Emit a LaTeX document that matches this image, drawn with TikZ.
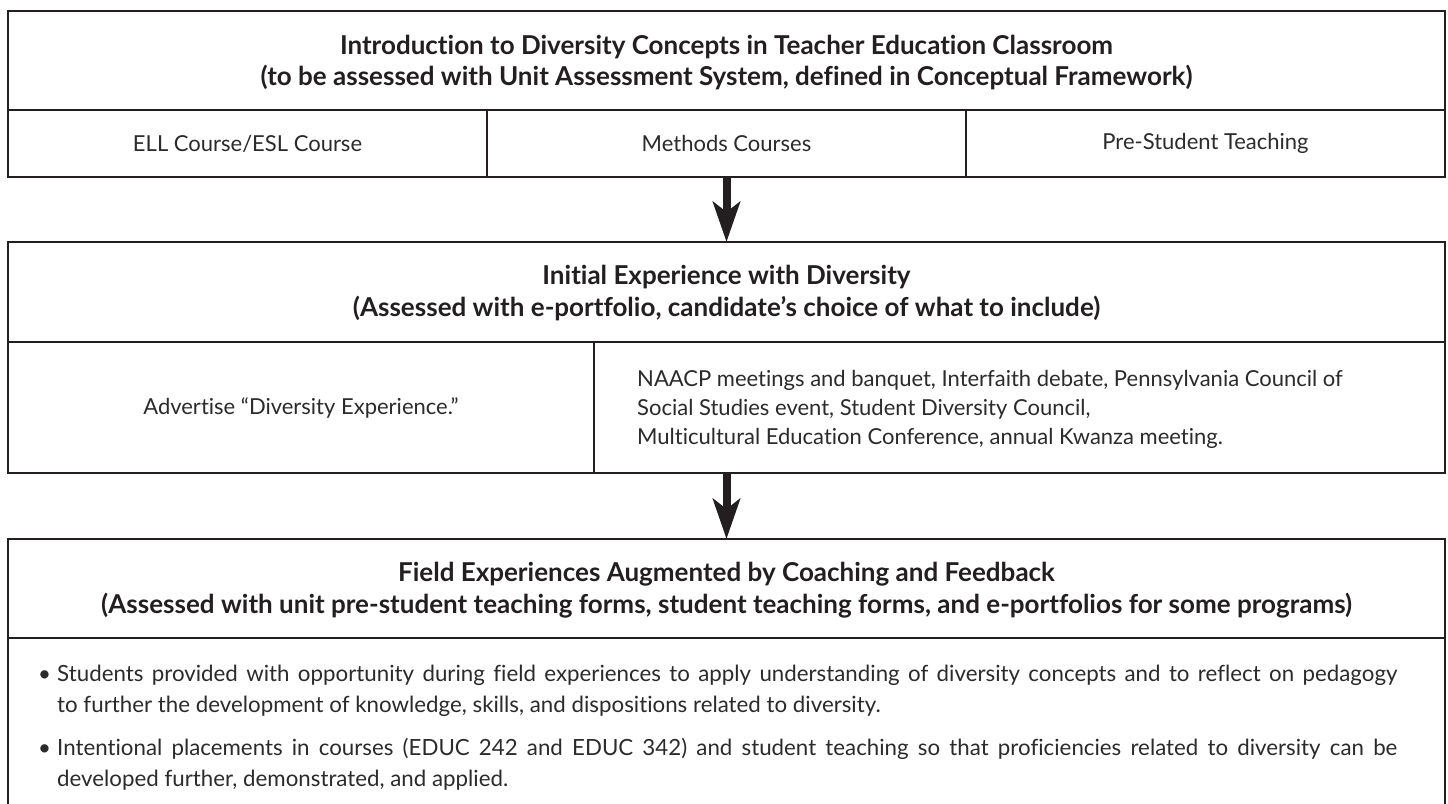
\documentclass[tikz,border=0pt]{standalone}
\usepackage{fontspec}
\setmainfont{Lato}[Ligatures=NoCommon]
\usetikzlibrary{arrows.meta}
\definecolor{ink}{HTML}{231F20}
\definecolor{txt}{HTML}{2B2B2B}
\begin{document}
\begin{tikzpicture}[x=1pt,y=-1pt,
  frame/.style={draw=ink, line width=2.4pt, inner sep=0pt, outer sep=0pt, anchor=north west},
  rule/.style={draw=ink, line width=2.2pt},
  headtxt/.style={font=\fontsize{26}{31.5}\selectfont\bfseries, text=ink, align=center, inner sep=0pt},
  celltxt/.style={font=\fontsize{22}{29}\selectfont, text=txt, inner sep=0pt},
  itemtxt/.style={font=\fontsize{22.3}{31}\selectfont, text=txt, inner sep=0pt, align=left, anchor=west},
  flow/.style={draw=ink, line width=8pt, -{Stealth[width=27pt,length=40pt,inset=10pt]}}]
\path[use as bounding box] (0,0) rectangle (1448,803);
\clip (0,0) rectangle (1448,803);
\fill[white] (0,0) rectangle (1448,803);
% boxes
\node[frame, minimum width=1437pt, minimum height=166pt] (b1) at (8,11) {};
\node[frame, minimum width=1437pt, minimum height=231pt] (b2) at (8,242) {};
\node[frame, minimum width=1437pt, minimum height=320pt] (b3) at (8,539) {};
% inner rules
\draw[rule] (8,110) -- (1445,110);
\draw[rule] (487,110) -- (487,177);
\draw[rule] (966,110) -- (966,177);
\draw[rule] (8,342) -- (1445,342);
\draw[rule] (594,342) -- (594,473);
\draw[rule] (8,638) -- (1445,638);
% connectors
\draw[flow] (b1.south) -- (b2.north);
\draw[flow] (b2.south) -- (b3.north);
% texts
\node[headtxt] (h1) at (726.5,62.5) {Introduction to Diversity Concepts in Teacher Education Classroom\\(to be assessed with Unit Assessment System, defined in Conceptual Framework)};
\node[celltxt] (c11) at (247.5,143.5) {ELL Course/ESL Course};
\node[celltxt] (c12) at (726.5,143.5) {Methods Courses};
\node[celltxt] (c13) at (1205.5,143.5) {Pre-Student Teaching};
\node[headtxt] (h2) at (726.5,293) {Initial Experience with Diversity\\(Assessed with e-portfolio, candidate’s choice of what to include)};
\node[celltxt] (c21) at (301,407.5) {Advertise “Diversity Experience.”};
\node[celltxt, align=left, anchor=west] (c22) at (637,409) {NAACP meetings and banquet, Interfaith debate, Pennsylvania Council of\\Social Studies event, Student Diversity Council,\\Multicultural Education Conference, annual Kwanza meeting.};
\node[headtxt] (h3) at (726.5,590) {Field Experiences Augmented by Coaching and Feedback\\(Assessed with unit pre-student teaching forms, student teaching forms, and e-portfolios for some programs)};
\node[itemtxt] (i1) at (38,691) {\makebox[19pt][l]{\textbullet}\makebox[1340pt][s]{Students provided with opportunity during field experiences to apply understanding of diversity concepts and to reflect on pedagogy}\\\hspace*{19pt}to further the development of knowledge, skills, and dispositions related to diversity.};
\node[itemtxt] (i2) at (38,764) {\makebox[19pt][l]{\textbullet}\makebox[1340pt][s]{Intentional placements in courses (EDUC 242 and EDUC 342) and student teaching so that proficiencies related to diversity can be}\\\hspace*{19pt}developed further, demonstrated, and applied.};
\end{tikzpicture}
\end{document}
